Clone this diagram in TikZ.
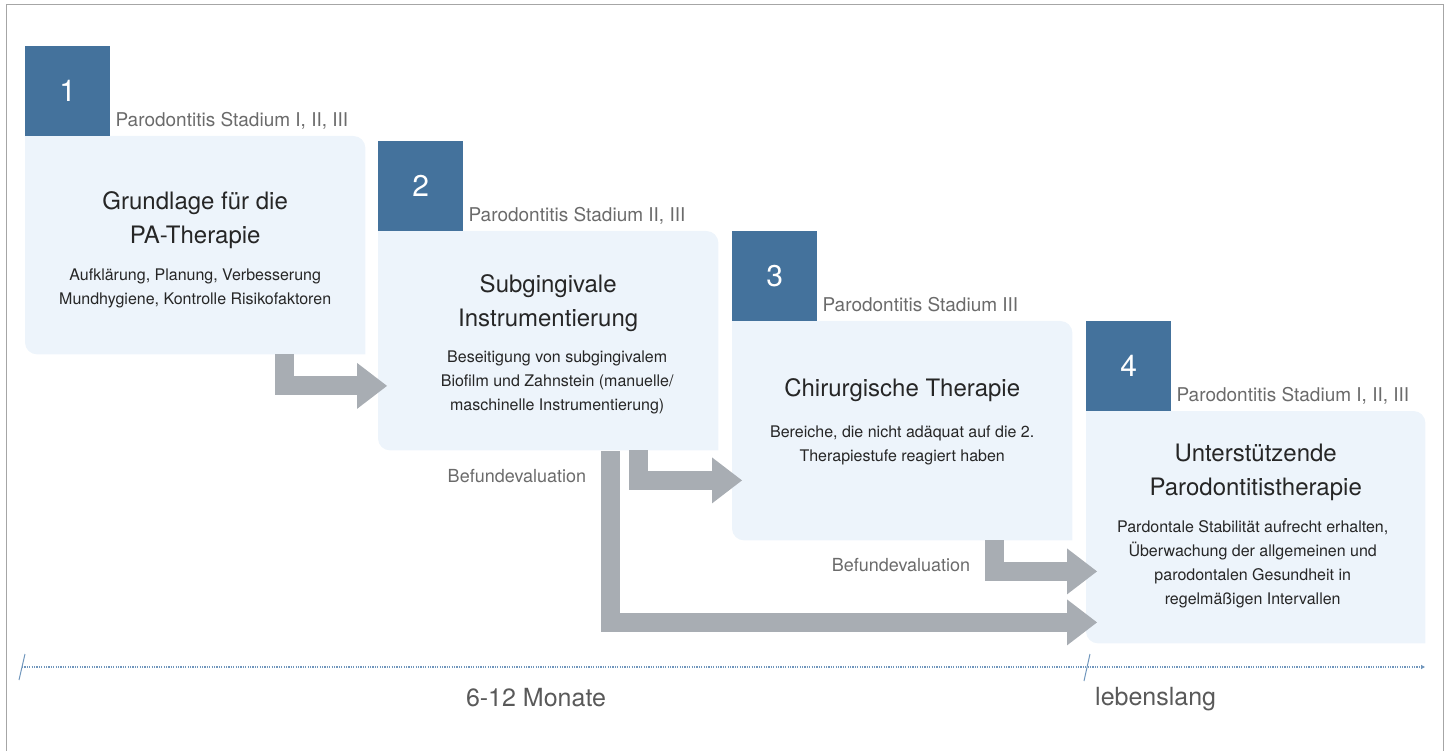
\documentclass[tikz,border=0pt]{standalone}
\usepackage{fontspec}
\setmainfont{TeX Gyre Heros}
\usetikzlibrary{arrows.meta,positioning,calc}
\definecolor{stepblue}{HTML}{44729C}
\definecolor{panelfill}{HTML}{EDF4FB}
\definecolor{flowgrey}{HTML}{A8ADB3}
\definecolor{labelgrey}{HTML}{6B6B6B}
\definecolor{textdark}{HTML}{262626}
\definecolor{timeblue}{HTML}{7096BC}
\tikzset{flow/.style = {
    draw=flowgrey, line width=19pt, line join=miter,
    -{Triangle[length=30pt, width=46pt, line width=0pt]},
  }
}
% light panel, rounded only top right and bottom left
\newcommand{\leafpanel}[1]{%
  \fill[panelfill] (#1.north west) -- ([xshift=-12pt]#1.north east) arc[start angle=90, end angle=0, radius=12pt]
    -- (#1.south east) -- ([xshift=12pt]#1.south west) arc[start angle=270, end angle=180, radius=12pt] -- cycle;}

\begin{document}
\begin{tikzpicture}[x=1pt, y=-1pt]
  \useasboundingbox (0,0) rectangle (1449,751);
  \draw[black!35, line width=1pt] (6,751) -- (6,5) -- (1443,5) -- (1443,751);

  % styles
  \tikzstyle{panel} = [rectangle, inner sep=0pt, anchor=north west, minimum width=340pt]
  \tikzstyle{numbox} = [rectangle, fill=stepblue, text=white, inner sep=0pt, minimum width=85pt, minimum height=90pt, font=\fontsize{30}{30}\selectfont]
  \tikzstyle{stage} = [text=labelgrey, inner sep=0pt, anchor=base west, font=\fontsize{19}{19}\selectfont]
  \tikzstyle{heading} = [text=textdark, align=center, inner sep=0pt, font=\fontsize{24}{34}\selectfont]
  \tikzstyle{detail} = [text=textdark, align=center, inner sep=0pt, font=\fontsize{16}{24}\selectfont]
  \tikzstyle{evallabel} = [text=labelgrey, inner sep=0pt, anchor=base east, font=\fontsize{18}{18}\selectfont]
  \tikzstyle{spanlabel} = [text=black!65, inner sep=0pt, font=\fontsize{25}{25}\selectfont]
  \tikzstyle{timeline} = [draw=timeblue, line width=1.2pt, dash pattern=on 1.2pt off 1.2pt, -{Triangle[length=4pt, width=4pt]}]

  % panels
  \node[panel, minimum height=218pt] (g1) at (25,136) {};
  \node[panel, minimum height=219pt] (g2) at (378,231) {};
  \node[panel, minimum height=219pt] (g3) at (732,321) {};
  \node[panel, minimum height=232pt, minimum width=339pt] (g4) at (1086,411) {};
  \leafpanel{g1}
  \leafpanel{g2}
  \leafpanel{g3}
  \leafpanel{g4}

  % step numbers
  \node[numbox, above right=0pt and 0pt of g1.north west] (n1) {1};
  \node[numbox, above right=0pt and 0pt of g2.north west] (n2) {2};
  \node[numbox, above right=0pt and 0pt of g3.north west] (n3) {3};
  \node[numbox, above right=0pt and 0pt of g4.north west] (n4) {4};

  \node[stage] (s1) at ($(n1.south east)+(5,-9.5)$) {Parodontitis Stadium I, II, III};
  \node[stage] (s2) at ($(n2.south east)+(5,-9.5)$) {Parodontitis Stadium II, III};
  \node[stage] (s3) at ($(n3.south east)+(5,-9.5)$) {Parodontitis Stadium III};
  \node[stage] (s4) at ($(n4.south east)+(5,-9.5)$) {Parodontitis Stadium I, II, III};

  % texts
  \node[heading, below=55.5pt of g1.north] (t1) {Grundlage für die\\PA-Therapie};
  \node[detail, below=132.5pt of g1.north] (d1) {Aufklärung, Planung, Verbesserung\\Mundhygiene, Kontrolle Risikofaktoren};

  \node[heading, below=43.5pt of g2.north] (t2) {Subgingivale\\Instrumentierung};
  \node[detail, below=120pt of g2.north, xshift=9pt] (d2) {Beseitigung von subgingivalem\\Biofilm und Zahnstein (manuelle/\\maschinelle Instrumentierung)};

  \node[heading, below=57pt of g3.north] (t3) {Chirurgische Therapie};
  \node[detail, below=104.5pt of g3.north] (d3) {Bereiche, die nicht adäquat auf die 2.\\Therapiestufe reagiert haben};

  \node[heading, below=33pt of g4.north] (t4) {Unterstützende\\Parodontitistherapie};
  \node[detail, below=109pt of g4.north, xshift=-3pt] (d4) {Pardontale Stabilität aufrecht erhalten,\\Überwachung der allgemeinen und\\parodontalen Gesundheit in\\regelmäßigen Intervallen};

  % arrows
  \draw[flow] ($(g1.south east)+(-81,0)$) |- ($(g2.south west)+(9,-64.5)$);
  \draw[flow] ($(g2.south east)+(-79.5,0)$) |- ($(g3.south west)+(10,-60)$);
  \draw[flow] ($(g2.south east)+(-107.5,1)$) |- ($(g4.south west)+(11,-21)$);
  \draw[flow] ($(g3.south east)+(-78,0)$) |- ($(g4.south west)+(11,-72)$);

  \node[evallabel] (e1) at ($(g2.south east)+(-132,31.7)$) {Befundevaluation};
  \node[evallabel] (e2) at ($(g3.south east)+(-102,31.5)$) {Befundevaluation};

  % time line
  \coordinate (tstart) at (22,667);
  \coordinate (tmid) at (1087,667);
  \coordinate (tend) at (1425,667);
  \draw[timeline] (tstart) -- (tend);
  \draw[timeblue, line width=1pt] ($(tstart)+(-3,13)$) -- ($(tstart)+(3,-13)$);
  \draw[timeblue, line width=1pt] ($(tmid)+(-3,14)$) -- ($(tmid)+(3,-13)$);
  \node[spanlabel, anchor=base] (m1) at (536,706) {6-12 Monate};
  \node[spanlabel, anchor=base west] (m2) at (1095,705) {lebenslang};
\end{tikzpicture}
\end{document}
